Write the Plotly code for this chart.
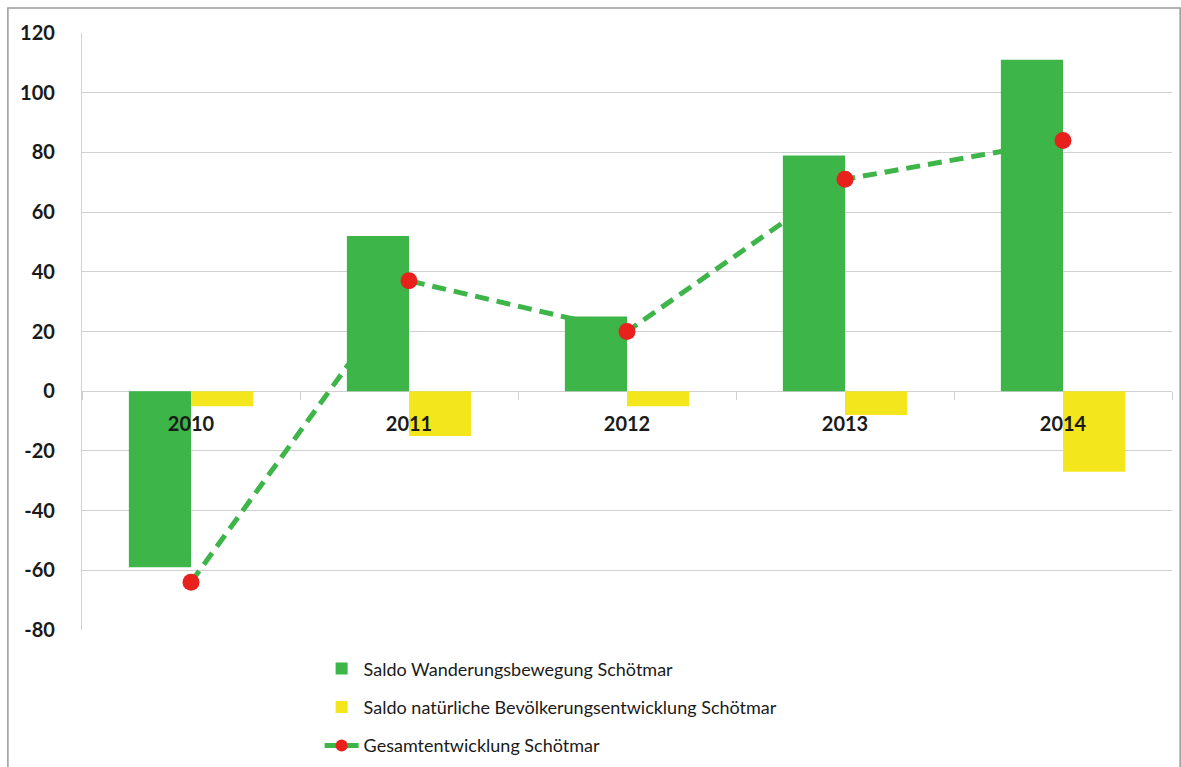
import plotly.graph_objects as go

years = ["2010", "2011", "2012", "2013", "2014"]
wanderung = [-59, 52, 25, 79, 111]
natuerlich = [-5, -15, -5, -8, -27]
gesamt = [-64, 37, 20, 71, 84]
y_ticks = [-80, -60, -40, -20, 0, 20, 40, 60, 80, 100, 120]
Y_MIN, Y_MAX = -80, 120

GREEN = "#3db548"
YELLOW = "#f3e61c"
RED = "#e8211d"
GRID = "#d0d0d0"
FONT = "Lato"

fig = go.Figure()

fig.add_trace(go.Bar(
    x=years, y=wanderung, name="Saldo Wanderungsbewegung Schötmar",
    marker=dict(color=GREEN, line=dict(width=0)), legendgroup="a",
))
fig.add_trace(go.Bar(
    x=years, y=natuerlich, name="Saldo natürliche Bevölkerungsentwicklung Schötmar",
    marker=dict(color=YELLOW, line=dict(width=0)), legendgroup="b",
))
fig.add_trace(go.Scatter(
    x=years, y=gesamt, name="Gesamtentwicklung Schötmar", mode="lines+markers",
    line=dict(color=GREEN, width=5, dash="14px,8px"),
    marker=dict(color=RED, size=17, line=dict(width=0)), legendgroup="c",
))

# outer frame of the chart
fig.add_shape(
    type="rect", xref="paper", yref="paper",
    x0=-0.068, x1=1.0075, y0=-0.3, y1=1.042,
    line=dict(color="#9a9a9a", width=1.5), fillcolor="rgba(0,0,0,0)", layer="below",
)

# the category axis crosses the value axis at zero
zero_pos = (0 - Y_MIN) / (Y_MAX - Y_MIN)

fig.update_layout(
    width=1181, height=767,
    margin=dict(l=82, r=9, t=33, b=137, autoexpand=False),
    paper_bgcolor="white", plot_bgcolor="white",
    barmode="group", bargap=0.43, bargroupgap=0,
    showlegend=True,
    legend=dict(
        orientation="v", x=0.218, xanchor="left",
        yref="container", y=0.152, yanchor="top",
        font=dict(family=FONT, size=18, color="#1a1a1a"),
        tracegroupgap=12, traceorder="grouped", itemwidth=34, itemsizing="constant",
        bgcolor="rgba(0,0,0,0)",
    ),
    xaxis=dict(
        type="category", anchor="free", position=zero_pos, automargin=False,
        showgrid=False, zeroline=False, showline=False,
        ticks="outside", tickson="boundaries", ticklen=8, tickcolor=GRID, tickwidth=1.2,
        ticklabelstandoff=19,
        tickfont=dict(family=FONT, size=20, color="#1a1a1a", weight="bold"),
    ),
    yaxis=dict(
        range=[Y_MIN, Y_MAX], tickvals=y_ticks, ticktext=[str(v) for v in y_ticks],
        automargin=False,
        showgrid=True, gridcolor=GRID, gridwidth=1.2,
        zeroline=True, zerolinecolor=GRID, zerolinewidth=1.2,
        showline=True, linecolor=GRID, linewidth=1.2,
        ticks="", ticklabelstandoff=22,
        tickfont=dict(family=FONT, size=20, color="#1a1a1a", weight="bold"),
    ),
)

fig.write_html("out.html")
